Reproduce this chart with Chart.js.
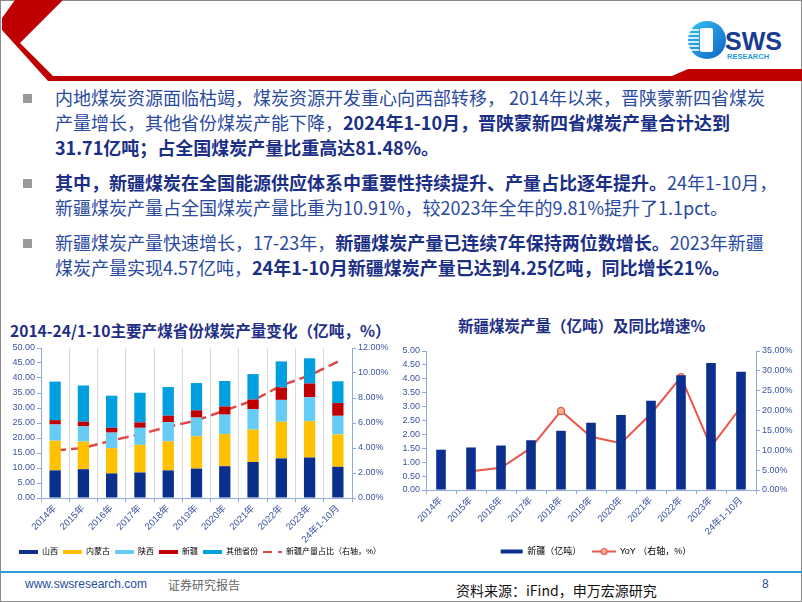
<!DOCTYPE html>
<html>
<head>
<meta charset="utf-8">
<script src="https://cdn.jsdelivr.net/npm/chart.js@4.4.1/dist/chart.umd.min.js"></script>
<style>
html, body { margin: 0; padding: 0; }
body {
    width: 802px; height: 602px; position: relative; overflow: hidden; background: #fff;
    font-family: "Noto Sans CJK SC", "Noto Sans", sans-serif;
}
.frame { position: absolute; left: 0; top: 0; width: 800px; height: 600px; border: 1px solid #8a8a8a; }
.bl { position: absolute; left: 0; white-space: nowrap; }
.sq { position: absolute; left: 23px; width: 9px; height: 9px; background: #9a9a9a; }
.tx { position: absolute; left: 55px; font-size: 18px; line-height: 25px; color: #2a4aa0; }
.tx b { color: #1b2f86; }
.title { position: absolute; font-weight: bold; color: #1f2f86; white-space: nowrap; }
.foot { position: absolute; white-space: nowrap; }
canvas { position: absolute; }
</style>
</head>
<body>
<div class="frame"></div>

<svg width="802" height="90" style="position:absolute;left:0;top:0">
  <polygon points="15,0 63,0 20,43 53,76 802,76 802,81 48,81 2,30 2,18" fill="#c00000"/>
  <polygon points="672,76 688,69 802,69 802,76" fill="#c00000"/>
  <defs>
    <linearGradient id="lg" x1="0" y1="0" x2="1" y2="1">
      <stop offset="0" stop-color="#35c3f3"/>
      <stop offset="1" stop-color="#0d63c4"/>
    </linearGradient>
  </defs>
  <circle cx="707" cy="40" r="19" fill="url(#lg)"/>
  <g stroke="#fff" stroke-width="1.6">
    <line x1="688" y1="30" x2="699" y2="30"/>
    <line x1="688" y1="34" x2="699" y2="34"/>
    <line x1="688" y1="38" x2="699" y2="38"/>
    <line x1="688" y1="42" x2="699" y2="42"/>
    <line x1="688" y1="46" x2="699" y2="46"/>
    <line x1="689" y1="50" x2="699" y2="50"/>
  </g>
  <rect x="700" y="28" width="13" height="24" rx="2" fill="#fff"/>
  <text x="725" y="50" font-family="Liberation Sans, Arial, sans-serif" font-weight="bold" font-size="25" fill="#1a3c8f">SWS</text>
  <text x="727" y="59" font-family="Liberation Sans, Arial, sans-serif" font-weight="bold" font-size="7.5" fill="#1e9bd7">RESEARCH</text>
</svg>

<div class="bl" style="top:85px">
  <div class="sq" style="top:9px"></div>
  <div class="tx">内地煤炭资源面临枯竭，煤炭资源开发重心向西部转移， 2014年以来，晋陕蒙新四省煤炭<br>产量增长，其他省份煤炭产能下降，<b>2024年1-10月，晋陕蒙新四省煤炭产量合计达到<br>31.71亿吨；占全国煤炭产量比重高达81.48%。</b></div>
</div>
<div class="bl" style="top:170px">
  <div class="sq" style="top:9px"></div>
  <div class="tx"><b>其中，新疆煤炭在全国能源供应体系中重要性持续提升、产量占比逐年提升。</b>24年1-10月，<br>新疆煤炭产量占全国煤炭产量比重为10.91%，较2023年全年的9.81%提升了1.1pct。</div>
</div>
<div class="bl" style="top:230px">
  <div class="sq" style="top:9px"></div>
  <div class="tx">新疆煤炭产量快速增长，17-23年，<b>新疆煤炭产量已连续7年保持两位数增长。</b>2023年新疆<br>煤炭产量实现4.57亿吨，<b>24年1-10月新疆煤炭产量已达到4.25亿吨，同比增长21%。</b></div>
</div>

<div class="title" style="left:10px;top:319px;font-size:15.6px">2014-24/1-10主要产煤省份煤炭产量变化（亿吨，%）</div>
<div class="title" style="left:458px;top:314px;font-size:15.5px">新疆煤炭产量（亿吨）及同比增速%</div>

<canvas id="leftChart" style="left:5px;top:338px"></canvas>
<canvas id="rightChart" style="left:392px;top:338px"></canvas>

<div style="position:absolute;left:0;top:571px;width:802px;height:2px;background:#2a9fd6"></div>
<div class="foot" style="left:25px;top:577px;font-family:'Liberation Sans',Arial,sans-serif;font-size:12px;color:#1f4e9a">www.swsresearch.com</div>
<div class="foot" style="left:168px;top:576px;font-size:12px;color:#666">证券研究报告</div>
<div class="foot" style="left:456px;top:580px;font-size:14px;color:#111">资料来源：iFind，申万宏源研究</div>
<div class="foot" style="left:762px;top:577px;font-family:'Liberation Sans',Arial,sans-serif;font-size:12px;color:#1f4e9a">8</div>

<script>
// values
const years = ["2014年", "2015年", "2016年", "2017年", "2018年", "2019年", "2020年", "2021年", "2022年", "2023年", "24年1-10月"];
const shanxi = [9.2, 9.6, 8.2, 8.5, 9.2, 9.8, 10.6, 12.0, 13.2, 13.5, 10.4];
const neimenggu = [9.9, 9.2, 8.4, 9.2, 9.7, 10.8, 10.7, 10.8, 12.2, 12.1, 10.8];
const shaanxi = [5.4, 5.1, 5.2, 5.7, 6.4, 6.2, 6.5, 6.8, 7.3, 8.0, 6.2];
const xinjiang = [1.45, 1.53, 1.60, 1.79, 2.13, 2.42, 2.70, 3.21, 4.13, 4.57, 4.25];
const others = [12.85, 12.07, 10.7, 9.9, 9.57, 9.1, 8.5, 8.5, 8.7, 8.4, 7.25];
const xinjiangShare = [3.8, 4.0, 4.6, 5.1, 5.7, 6.2, 7.0, 7.8, 9.0, 9.81, 10.91];
const xinjiangYoY = [null, 4.7, 5.6, 10.6, 19.9, 13.4, 11.8, 19.2, 28.4, 10.9, 20.9];

const leftTicks = { min: 0, max: 50, step: 5 };
const shareTicks = { min: 0, max: 12, step: 2 };
const outTicks = { min: 0, max: 5, step: 0.5 };
const yoyTicks = { min: 0, max: 35, step: 5 };

const axisColor = "#8ea9db";
const tickColor = "#3b55a0";
const fontFamily = '"Liberation Sans", Arial, "Noto Sans CJK SC", sans-serif';

const cNavy = "#0b2f8c";
const cYellow = "#ffc000";
const cLight = "#66ccf5";
const cRed = "#c00000";
const cBlue = "#00a0e0";
const cDash = "#e0484a";
const cYoY = "#e8574a";

function lineItem(text, color, width, dash) {
    return {
        text: text,
        fillStyle: color,
        strokeStyle: color,
        lineWidth: width,
        lineDash: dash || [],
        pointStyle: "line",
        lineCap: "butt",
        hidden: false,
    };
}

function yoyIcon() {
    const c = document.createElement("canvas");
    c.width = 24;
    c.height = 9;
    const g = c.getContext("2d");
    g.strokeStyle = cYoY;
    g.lineWidth = 2;
    g.beginPath();
    g.moveTo(0, 4.5);
    g.lineTo(24, 4.5);
    g.stroke();
    g.beginPath();
    g.arc(12, 4.5, 3, 0, Math.PI * 2);
    g.fillStyle = "#f6b08a";
    g.fill();
    g.lineWidth = 1.2;
    g.stroke();
    return c;
}

function yAxis(t, pos, width, fmt, stacked) {
    return {
        position: pos,
        stacked: !!stacked,
        min: t.min,
        max: t.max,
        afterFit: (s) => { s.width = width; },
        afterBuildTicks: (s) => {
            const ticks = [];
            for (let v = t.min; v <= t.max + 1e-9; v += t.step) {
                ticks.push({ value: Math.round(v * 100) / 100 });
            }
            s.ticks = ticks;
        },
        border: { color: axisColor, width: 1 },
        grid: { drawOnChartArea: false, color: axisColor, tickLength: 4 },
        ticks: {
            color: tickColor,
            padding: 2,
            font: { family: fontFamily, size: 9 },
            callback: fmt,
        },
    };
}

function xAxis(height, gridOn) {
    return {
        stacked: true,
        afterFit: (s) => { s.height = height; },
        border: { color: axisColor, width: 1 },
        grid: {
            display: true,
            drawOnChartArea: gridOn,
            color: gridOn ? "#d9d9d9" : axisColor,
            tickColor: axisColor,
            tickLength: 4,
            offset: true,
        },
        ticks: {
            color: tickColor,
            maxRotation: 45,
            minRotation: 45,
            autoSkip: false,
            padding: 1,
            font: { family: fontFamily, size: 9.5 },
        },
    };
}

function buildLeft() {
    const canvas = document.getElementById("leftChart");
    canvas.width = 390;
    canvas.height = 232;
    canvas.style.width = "390px";
    canvas.style.height = "232px";

    const bar = (label, data, color) => ({
        type: "bar",
        label: label,
        data: data,
        backgroundColor: color,
        borderWidth: 0,
        stack: "s",
        yAxisID: "y",
        barPercentage: 0.8,
        categoryPercentage: 0.5,
    });

    new Chart(canvas.getContext("2d"), {
        data: {
            labels: years,
            datasets: [
                bar("山西", shanxi, cNavy),
                bar("内蒙古", neimenggu, cYellow),
                bar("陕西", shaanxi, cLight),
                bar("新疆", xinjiang, cRed),
                bar("其他省份", others, cBlue),
                {
                    type: "line",
                    label: "新疆产量占比（右轴，%）",
                    data: xinjiangShare,
                    yAxisID: "y1",
                    borderColor: cDash,
                    borderWidth: 2.5,
                    borderDash: [11, 5],
                    pointRadius: 0,
                    fill: false,
                    tension: 0,
                },
            ],
        },
        options: {
            responsive: false,
            animation: false,
            layout: { padding: { top: 10, bottom: 4, left: 0, right: 0 } },
            scales: {
                x: xAxis(45, true),
                y: yAxis(leftTicks, "left", 36, (v) => v.toFixed(2), true),
                y1: yAxis(shareTicks, "right", 43, (v) => v.toFixed(2) + "%", false),
            },
            plugins: {
                tooltip: { enabled: false },
                legend: {
                    position: "bottom",
                    labels: {
                        usePointStyle: true,
                        pointStyleWidth: 19,
                        boxHeight: 8,
                        padding: 5,
                        color: "#404a7a",
                        font: { family: fontFamily, size: 8 },
                        generateLabels: () => [
                            lineItem("山西", cNavy, 4),
                            lineItem("内蒙古", cYellow, 4),
                            lineItem("陕西", cLight, 4),
                            lineItem("新疆", cRed, 4),
                            lineItem("其他省份", cBlue, 4),
                            lineItem("新疆产量占比（右轴，%）", cDash, 2, [9, 6]),
                        ],
                    },
                },
            },
        },
    });
}

function buildRight() {
    const canvas = document.getElementById("rightChart");
    canvas.width = 408;
    canvas.height = 232;
    canvas.style.width = "408px";
    canvas.style.height = "232px";

    new Chart(canvas.getContext("2d"), {
        data: {
            labels: years,
            datasets: [
                {
                    type: "bar",
                    label: "新疆（亿吨）",
                    data: xinjiang,
                    backgroundColor: cNavy,
                    borderWidth: 0,
                    yAxisID: "y",
                    barPercentage: 0.8,
                    categoryPercentage: 0.4,
                },
                {
                    type: "line",
                    label: "YoY （右轴，%）",
                    data: xinjiangYoY,
                    yAxisID: "y1",
                    borderColor: cYoY,
                    borderWidth: 2,
                    pointRadius: 3.5,
                    pointBackgroundColor: "#f6b08a",
                    pointBorderColor: cYoY,
                    pointBorderWidth: 1.3,
                    fill: false,
                    tension: 0,
                    spanGaps: false,
                },
            ],
        },
        options: {
            responsive: false,
            animation: false,
            layout: { padding: { top: 13, bottom: 4, left: 0, right: 0 } },
            scales: {
                x: xAxis(45, false),
                y: yAxis(outTicks, "left", 34, (v) => v.toFixed(2), false),
                y1: yAxis(yoyTicks, "right", 44, (v) => v.toFixed(2) + "%", false),
            },
            plugins: {
                tooltip: { enabled: false },
                legend: {
                    position: "bottom",
                    labels: {
                        usePointStyle: true,
                        pointStyleWidth: 22,
                        boxHeight: 9,
                        padding: 12,
                        color: "#404a7a",
                        font: { family: fontFamily, size: 9 },
                        generateLabels: () => {
                            const yoy = lineItem("YoY （右轴，%）", cYoY, 2);
                            yoy.pointStyle = yoyIcon();
                            return [lineItem("新疆（亿吨）", cNavy, 4), yoy];
                        },
                    },
                },
            },
        },
    });
}

buildLeft();
buildRight();
</script>
</body>
</html>
